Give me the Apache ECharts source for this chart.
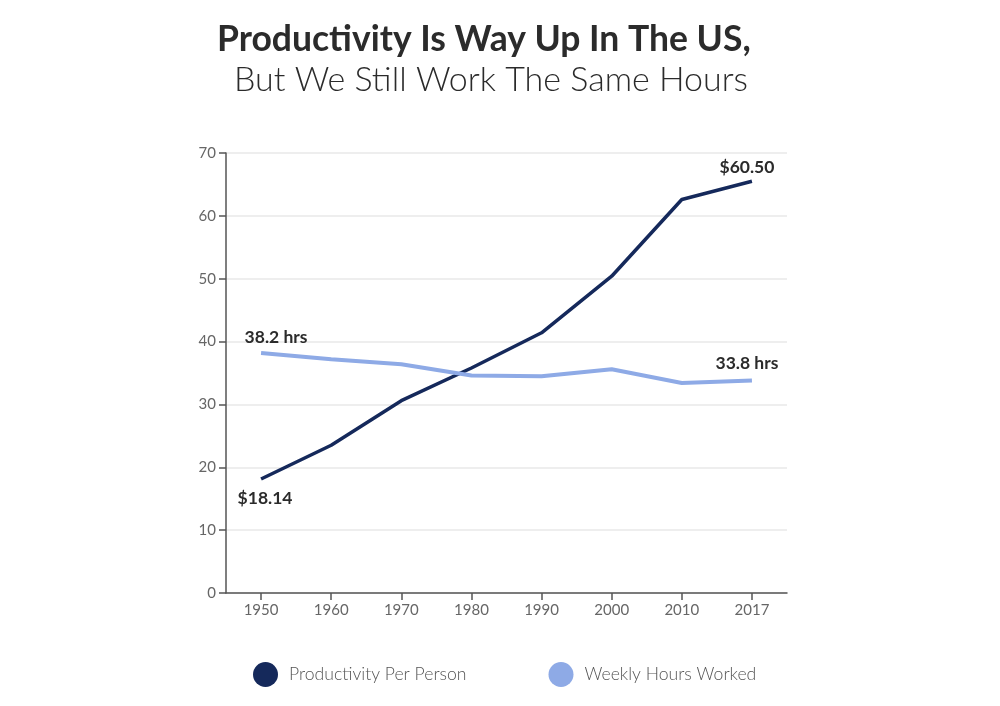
<!DOCTYPE html>
<html><head><meta charset="utf-8">
<script src="https://cdn.jsdelivr.net/npm/echarts@6/dist/echarts.min.js"></script>
<style>html,body{margin:0;padding:0;background:#fff}#c{width:1000px;height:706px}</style>
</head><body><div id="c"></div>
<script>
const years = ['1950','1960','1970','1980','1990','2000','2010','2017'];
const productivity = [18.14, 23.5, 30.6, 35.8, 41.4, 50.4, 62.6, 65.5];
const hours = [38.2, 37.2, 36.4, 34.6, 34.5, 35.6, 33.4, 33.8];
const productivityLabels = ['$18.14', '', '', '', '', '', '', '$60.50'];
const hoursLabels = ['38.2 hrs', '', '', '', '', '', '', '33.8 hrs'];
const yTicks = [0, 10, 20, 30, 40, 50, 60, 70];

const FONT = 'Lato';
const labelStyle = {fontFamily: FONT, fontWeight: 'bold', fontSize: 17.5, color: '#2b2b2b'};

function mkData(vals, texts, cfgFirst, cfgLast) {
  return vals.map((v, i) => {
    if (i === 0) return {value: v, label: Object.assign({show: true, formatter: texts[i]}, labelStyle, cfgFirst)};
    if (i === vals.length - 1) return {value: v, label: Object.assign({show: true, formatter: texts[i]}, labelStyle, cfgLast)};
    return {value: v, label: {show: false}};
  });
}

const chart = echarts.init(document.getElementById('c'), null, {renderer: 'canvas'});
chart.setOption({
  animation: false,
  backgroundColor: '#fff',
  title: [
    {text: 'Productivity Is Way Up In The US,', left: 212, top: 17,
     textStyle: {fontFamily: FONT, fontWeight: 'bold', fontSize: 35.5, color: '#2b2b2b'}},
    {text: 'But We Still Work The Same Hours', left: 229, top: 58,
     textStyle: {fontFamily: FONT, fontWeight: 300, fontSize: 34, color: '#2b2b2b'}}
  ],
  legend: {
    bottom: 14, left: 248, icon: 'circle', itemWidth: 25, itemHeight: 25, itemGap: 82,
    textStyle: {fontFamily: FONT, fontSize: 17.6, color: '#555', fontWeight: 300, padding: [0, 0, 0, 6]},
    data: ['Productivity Per Person', 'Weekly Hours Worked']
  },
  grid: {left: 226, right: 213, top: 153, bottom: 113, containLabel: false},
  xAxis: {
    type: 'category', data: years, boundaryGap: true,
    axisLine: {lineStyle: {color: '#555', width: 1.5}},
    axisTick: {show: true, alignWithLabel: true, length: 7, lineStyle: {color: '#555', width: 1.5}},
    axisLabel: {fontFamily: FONT, fontSize: 15, color: '#666', margin: 10}
  },
  yAxis: {
    type: 'value', min: yTicks[0], max: yTicks[yTicks.length - 1], interval: 10,
    axisLine: {show: true, lineStyle: {color: '#555', width: 1.5}},
    axisTick: {show: true, length: 7, lineStyle: {color: '#555', width: 1.5}},
    axisLabel: {fontFamily: FONT, fontSize: 15, color: '#666', margin: 10},
    splitLine: {show: true, lineStyle: {color: '#e8e8e8', width: 1.5}}
  },
  series: [
    {name: 'Productivity Per Person', type: 'line', symbol: 'circle', symbolSize: 0, showSymbol: true,
     color: '#15295b', lineStyle: {width: 3.5, color: '#15295b'},
     data: mkData(productivity, productivityLabels,
       {position: 'bottom', offset: [4, 5]}, {position: 'top', offset: [-5, 0]})},
    {name: 'Weekly Hours Worked', type: 'line', symbol: 'circle', symbolSize: 0, showSymbol: true,
     color: '#8eaae6', lineStyle: {width: 4, color: '#8eaae6'},
     data: mkData(hours, hoursLabels,
       {position: 'top', offset: [15, -2]}, {position: 'top', offset: [-5, -3]})}
  ]
});
</script></body></html>
